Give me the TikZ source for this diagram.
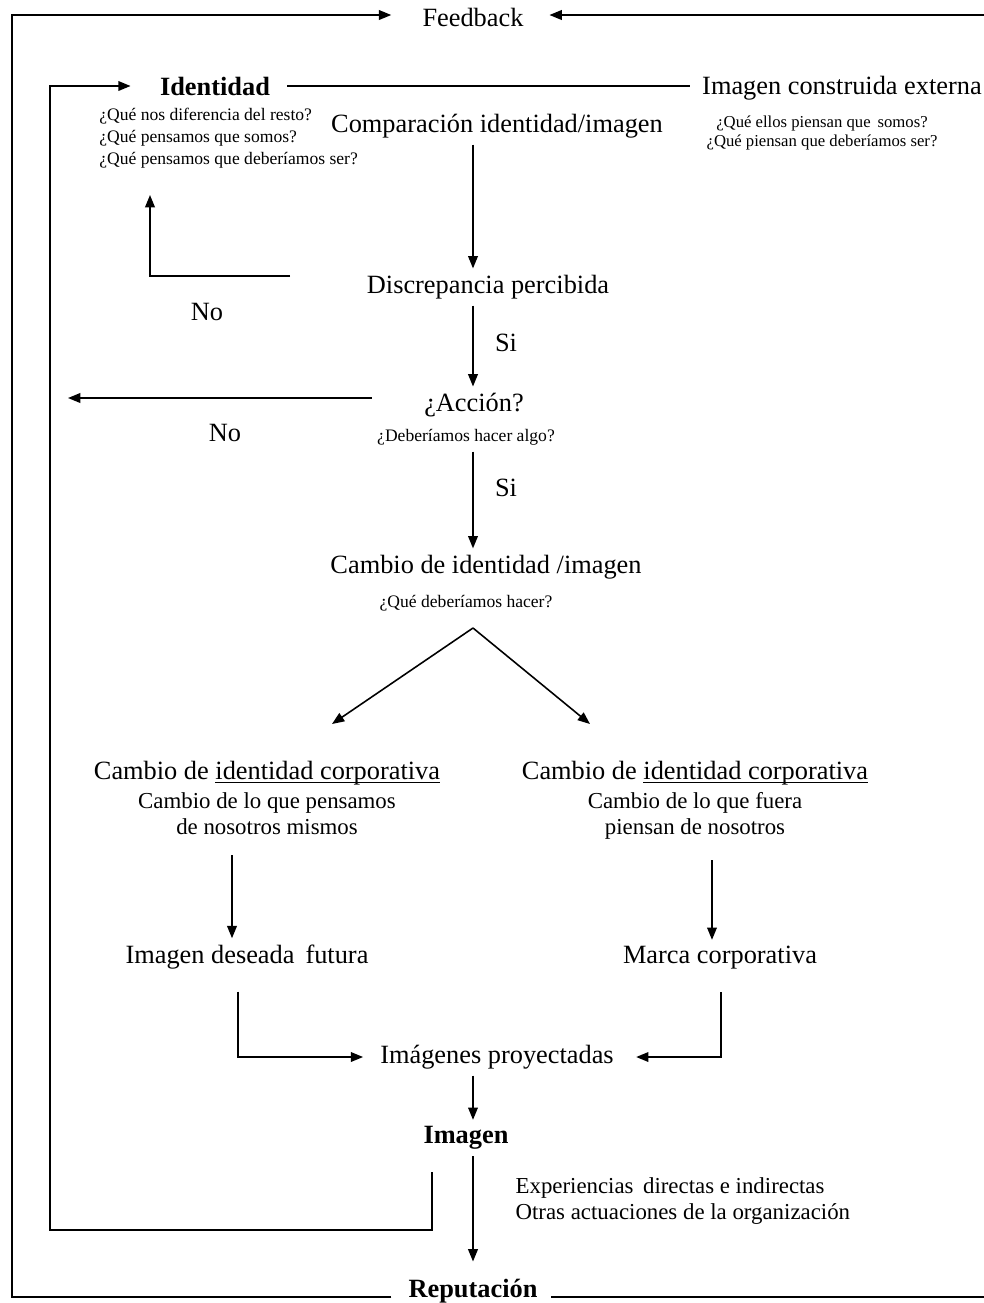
\documentclass[tikz,border=0pt]{standalone}
\usepackage{fontspec}
\setmainfont{Liberation Serif}
\usetikzlibrary{arrows.meta}
\newcommand{\lineunder}[1]{\setbox0\hbox{#1}\rlap{\rule[-2pt]{\wd0}{0.6pt}}\box0}

\begin{document}
\begin{tikzpicture}[x=0.02cm, y=-0.02cm, line width=0.9pt,
        >={Triangle[length=7pt,width=5.5pt]},
        lbl/.style={font=\fontsize{15}{18}\selectfont},
        lblb/.style={font=\fontsize{15}{18}\selectfont\bfseries},
        note/.style={font=\fontsize{10}{12.5}\selectfont},
        mid/.style={font=\fontsize{13}{14.7}\selectfont, align=center}]
        \useasboundingbox (0,0) rectangle (984,1303);

        \coordinate (sp) at (473,0);
        \coordinate (xl) at (232,0);
        \coordinate (xr) at (712,0);
        \coordinate (xl2) at (238,0);
        \coordinate (xr2) at (721,0);
        \coordinate (otl) at (12,15);
        \coordinate (otr) at (984,15);
        \coordinate (obr) at (984,1297);
        \coordinate (ibs) at (432,1172);
        \coordinate (ibl) at (50,1230);
        \coordinate (dno) at (290,276);
        \coordinate (dnt) at (150,195);
        \coordinate (accno) at (68,398);
        \coordinate (apex) at (473,628);
        \coordinate (tipl) at (332,724);
        \coordinate (tipr) at (590,724);

        \node[lbl] (fb) at (473,17) {Feedback};
        \node[lblb] (ident) at (215,86) {Identidad};
        \node[lbl] (ext) at (842,88) {Imagen construida externa};
        \node[note, align=left, anchor=north west, inner sep=2pt] (qid) at (95,104)
            {¿Qué nos diferencia del resto?\\¿Qué pensamos que somos?\\¿Qué pensamos que deberíamos ser?};
        \node[note, align=center, font=\fontsize{9.5}{10.5}\selectfont] (qext) at (822,133)
            {¿Qué ellos piensan que\, somos?\\¿Qué piensan que deberíamos ser?};
        \node[lbl] (cmp) at (497,126) {Comparación identidad/imagen};
        \node[lbl] (disc) at (488,287) {Discrepancia percibida};
        \node[lbl] (no1) at (207,312) {No};
        \node[lbl] (si1) at (506,343) {Si};
        \node[lbl] (acc) at (474,405) {¿Acción?};
        \node[note] (accq) at (466,437) {¿Deberíamos hacer algo?};
        \node[lbl] (no2) at (225,433) {No};
        \node[lbl] (si2) at (506,488) {Si};
        \node[lbl] (camb) at (486,567) {Cambio de identidad /imagen};
        \node[note] (cambq) at (466,603) {¿Qué deberíamos hacer?};
        \node[lbl] (cil) at (267,773) {Cambio de \lineunder{identidad corporativa}};
        \node[mid, anchor=north] (cild) at (267,786) {Cambio de lo que pensamos\\de nosotros mismos};
        \node[lbl] (cir) at (695,773) {Cambio de \lineunder{identidad corporativa}};
        \node[mid, anchor=north] (cird) at (695,786) {Cambio de lo que fuera\\piensan de nosotros};
        \node[lbl] (fut) at (247,957) {Imagen deseada\, futura};
        \node[lbl] (marca) at (720,958) {Marca corporativa};
        \node[lbl] (proy) at (497,1057) {Imágenes proyectadas};
        \node[lblb] (img) at (466,1138) {Imagen};
        \node[mid, align=left, anchor=west] (exp) at (509,1201)
            {Experiencias\, directas e indirectas\\Otras actuaciones de la organización};
        \node[lblb, anchor=base] (rep) at (473,1297) {Reputación};

        \draw[->, shorten <=6pt, shorten >=14pt] (rep.base west) -| (otl) -- (otl -| fb.west);
        \draw[->, shorten >=11pt] (otr) -- (otr -| fb.east);
        \draw[shorten <=4pt] (rep.base east) -- (obr);
        \draw[->, shorten >=13pt] (ibs) |- (ibl) |- (ident.west);
        \draw[shorten <=6pt, shorten >=3pt] (ident.east) -- (ident.east -| ext.west);

        \draw[->] (cmp.south -| sp) -- (disc.north -| sp);
        \draw[->] (dno) -| (dnt);
        \draw[->] (disc.south -| sp) -- (acc.north -| sp);
        \draw[->, shorten <=26pt] (acc.west |- accno) -- (accno);
        \draw[->] (accq.south -| sp) -- (camb.north -| sp);
        \draw[->] (apex) -- (tipl);
        \draw[->] (apex) -- (tipr);
        \draw[->, shorten <=8pt] (cild.south -| xl) -- (fut.north -| xl);
        \draw[->, shorten <=8pt] (cird.south -| xr) -- (marca.north -| xr);
        \draw[->, shorten <=9pt, shorten >=6pt] (fut.south -| xl2) |- (proy.west);
        \draw[->, shorten <=9pt, shorten >=9pt] (marca.south -| xr2) |- (proy.east);
        \draw[->] (proy.south -| sp) -- (img.north -| sp);
        \draw[->, shorten >=6pt] (img.south -| sp) -- (rep.north -| sp);
    \end{tikzpicture}
\end{document}
